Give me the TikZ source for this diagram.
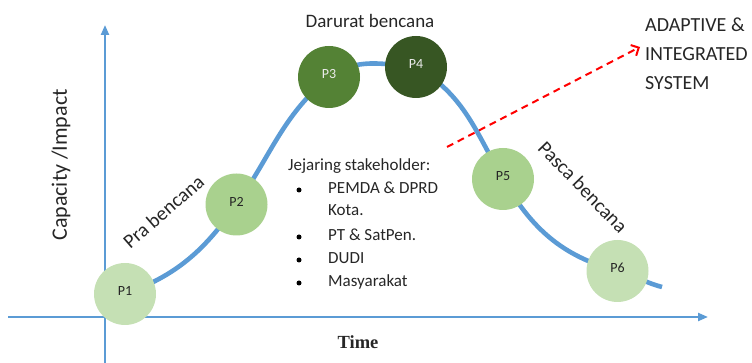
\documentclass[tikz,border=0pt]{standalone}
\usepackage{fontspec}
\setmainfont{Carlito}
\newfontfamily\serifbold{Liberation Serif}
\usetikzlibrary{arrows.meta}

\definecolor{axisblue}{HTML}{5B9BD5}
\definecolor{greenA}{HTML}{C5E0B4}
\definecolor{greenB}{HTML}{A9D18E}
\definecolor{greenC}{HTML}{548235}
\definecolor{greenD}{HTML}{375623}
\definecolor{inkgray}{HTML}{262626}
\definecolor{arrowred}{HTML}{FF0000}

\tikzset{
  axisline/.style={draw=axisblue, line width=2.2pt,
    -{Triangle[length=10pt,width=8pt]}},
  phasecurve/.style={draw=axisblue, line width=4.6pt},
  phase/.style={circle, minimum size=62pt, inner sep=0pt, text depth=6pt,
    font=\fontsize{14}{14}\selectfont},
  lightphase/.style={phase, fill=greenA, text=inkgray},
  midphase/.style={phase, fill=greenB, text=inkgray},
  darkphase/.style={phase, fill=greenC, text=white!92!black},
  deepphase/.style={phase, fill=greenD, text=white!92!black},
  stagelabel/.style={text=inkgray, font=\fontsize{20}{20}\selectfont, inner sep=0pt},
  listline/.style={anchor=west, text=inkgray, inner sep=0pt,
    text height=12pt, text depth=4pt, font=\fontsize{17}{17}\selectfont},
  dot/.style={circle, fill=black, minimum size=5pt, inner sep=0pt},
  outcome/.style={draw=arrowred, line width=2pt, dash pattern=on 7pt off 5pt,
    -{Straight Barb[length=6pt,width=12pt]}},
}

\begin{document}
\begin{tikzpicture}[x=1pt,y=1pt]
\useasboundingbox (0,0) rectangle (752,363);

% axes
\coordinate (yBottom) at (105,0);
\coordinate (yTop) at (105,338);
\coordinate (xLeft) at (8,46);
\coordinate (xRight) at (708,46);
\draw[axisline] (yBottom) -- (yTop);
\draw[axisline] (xLeft) -- (xRight);

% phase centres
\coordinate (c1) at (125,69);
\coordinate (c2) at (236.5,158.5);
\coordinate (c3) at (329,286);
\coordinate (c4) at (416,296);
\coordinate (c5) at (503,184);
\coordinate (c6) at (617.5,92);
\coordinate (tail) at (662,76);

% capacity curve through the phases
\draw[phasecurve] (c1) to[out=20,in=235] (c2) to[out=55,in=220] (c3)
  to[out=35,in=175] (c4) to[out=-30,in=120] (c5) to[out=-60,in=165] (c6)
  to[out=-15,in=165] (tail);

% phases
\node[lightphase] (p1) at (c1) {P1};
\node[midphase]   (p2) at (c2) {P2};
\node[darkphase]  (p3) at (c3) {P3};
\node[deepphase]  (p4) at (c4) {P4};
\node[midphase]   (p5) at (c5) {P5};
\node[lightphase] (p6) at (c6) {P6};

% axis titles
\node[text=inkgray, rotate=90, font=\fontsize{22}{22}\selectfont] (ytitle) at (61,198) {Capacity /Impact};
\node[text=inkgray, font=\serifbold\bfseries\fontsize{18.5}{18.5}\selectfont] (xtitle) at (358,21) {Time};

% stage labels
\node[stagelabel, rotate=41] (pra) at (163.5,151.5) {Pra bencana};
\node[stagelabel, font=\fontsize{19}{19}\selectfont] (darurat) at (370,342.5) {Darurat bencana};
\node[stagelabel, rotate=-46] (pasca) at (583,176) {Pasca bencana};

% outcome
\node[anchor=north west, align=left, text=inkgray, inner sep=0pt,
  font=\fontsize{20}{29}\selectfont] (system) at (645,345) {ADAPTIVE \&\\INTEGRATED\\SYSTEM};
\coordinate (outStart) at (447,216);
\coordinate (outEnd) at (640,316);
\draw[outcome] (outStart) -- (outEnd);

% stakeholder network
\node[listline] (net) at (288,196) {Jejaring stakeholder:};
\node[dot] (d1) at (299,173) {};
\node[listline] (l1) at (328,173) {PEMDA \& DPRD};
\node[listline] (l1b) at (328,151) {Kota.};
\node[dot] (d2) at (299,126) {};
\node[listline] (l2) at (328,126) {PT \& SatPen.};
\node[dot] (d3) at (299,103) {};
\node[listline] (l3) at (328,103) {DUDI};
\node[dot] (d4) at (299,80) {};
\node[listline] (l4) at (328,80) {Masyarakat};
\end{tikzpicture}
\end{document}
